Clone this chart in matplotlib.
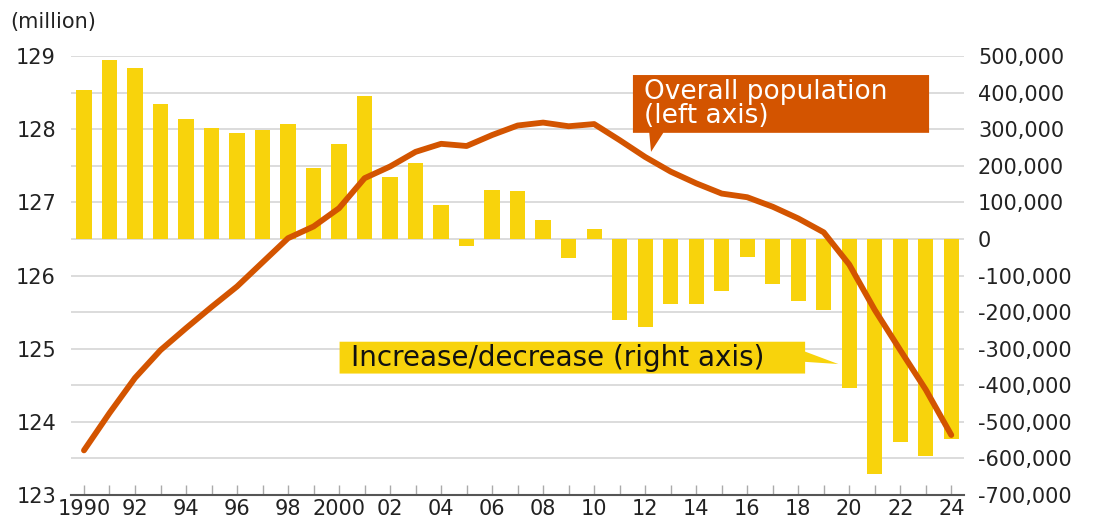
import matplotlib.pyplot as plt
from matplotlib.patches import Polygon
from matplotlib.ticker import FuncFormatter

# data
years = list(range(1990, 2025))
population = [123.61, 124.12, 124.60, 124.98, 125.28, 125.57, 125.85, 126.18, 126.51, 126.67,
              126.92, 127.33, 127.49, 127.69, 127.80, 127.77, 127.92, 128.05, 128.09, 128.04,
              128.07, 127.85, 127.62, 127.42, 127.26, 127.12, 127.07, 126.94, 126.78, 126.59,
              126.15, 125.53, 124.98, 124.44, 123.82]
change = [406000, 490000, 466000, 370000, 327000, 304000, 289000, 299000, 314000, 195000,
          259000, 390000, 170000, 208000, 93000, -19000, 133000, 131000, 51000, -51000,
          26000, -222000, -240000, -178000, -177000, -142000, -50000, -122000, -169000, -193000,
          -407000, -643000, -554000, -594000, -548000]
xtick_years = list(range(1990, 2025, 2))
xtick_labels = ['1990', '92', '94', '96', '98', '2000', '02', '04', '06', '08',
                '10', '12', '14', '16', '18', '20', '22', '24']

bar_color = '#f8d30c'
line_color = '#d35400'

plt.rcParams['font.family'] = ['DejaVu Sans']

fig = plt.figure(figsize=(10.94, 5.22), dpi=100)
ax = fig.add_axes([0.0651, 0.0517, 0.8161, 0.841])
ax2 = ax.twinx()
ax.set_zorder(ax2.get_zorder() + 1)
ax.patch.set_visible(False)

# bars on right axis
ax2.bar(years, change, width=0.6, color=bar_color, zorder=2)
ax2.set_ylim(-700000, 500000)
ax2.set_yticks(range(-700000, 500001, 100000))
ax2.yaxis.set_major_formatter(FuncFormatter(lambda v, p: f'{int(v):,}'))
ax2.tick_params(axis='y', length=0, pad=10, labelsize=15, labelcolor='#222222')
ax2.set_axisbelow(True)
ax2.yaxis.grid(True, color='#d9d9d9', linewidth=1.3)
for s in ax2.spines.values():
    s.set_visible(False)

# line on left axis
ax.plot(years, population, color=line_color, linewidth=4.2,
        solid_capstyle='round', solid_joinstyle='round', zorder=3)
ax.set_ylim(123, 129)
ax.set_yticks(range(123, 130))
ax.tick_params(axis='y', length=0, pad=11, labelsize=15, labelcolor='#222222')
ax.set_xlim(1989.5, 2024.5)
ax.set_xticks(xtick_years)
ax.set_xticklabels(xtick_labels)
ax.set_xticks(years, minor=True)
ax.tick_params(axis='x', which='both', direction='in', length=7, width=1,
               color='#aaaaaa', pad=3, labelsize=15, labelcolor='#222222')
for name, s in ax.spines.items():
    s.set_visible(name == 'bottom')
ax.spines['bottom'].set_color('#555555')
ax.spines['bottom'].set_linewidth(1.5)
ax.spines['bottom'].set_zorder(4)

# callout: overall population
box1 = Polygon([(2011.52, 128.74), (2023.13, 128.74), (2023.13, 127.95), (2012.71, 127.95),
                (2012.23, 127.69), (2012.16, 127.95), (2011.52, 127.95)],
               closed=True, facecolor=line_color, edgecolor='none', zorder=5)
ax.add_patch(box1)
ax.text(2011.95, 128.345, 'Overall population\n(left axis)', color='white', fontsize=19,
        ha='left', va='center', linespacing=0.9, zorder=6)

# callout: increase/decrease
box2 = Polygon([(2000.02, 125.095), (2018.27, 125.095), (2018.27, 124.96), (2019.57, 124.79),
                (2018.27, 124.82), (2018.27, 124.66), (2000.02, 124.66)],
               closed=True, facecolor=bar_color, edgecolor='none', zorder=5)
ax.add_patch(box2)
ax.text(2000.46, 124.875, 'Increase/decrease (right axis)', color='#111111', fontsize=20,
        ha='left', va='center', zorder=6)

fig.text(0.009, 0.958, '(million)', fontsize=15, color='#222222', ha='left', va='center')

fig.savefig('out.png', dpi=100, facecolor='white')
